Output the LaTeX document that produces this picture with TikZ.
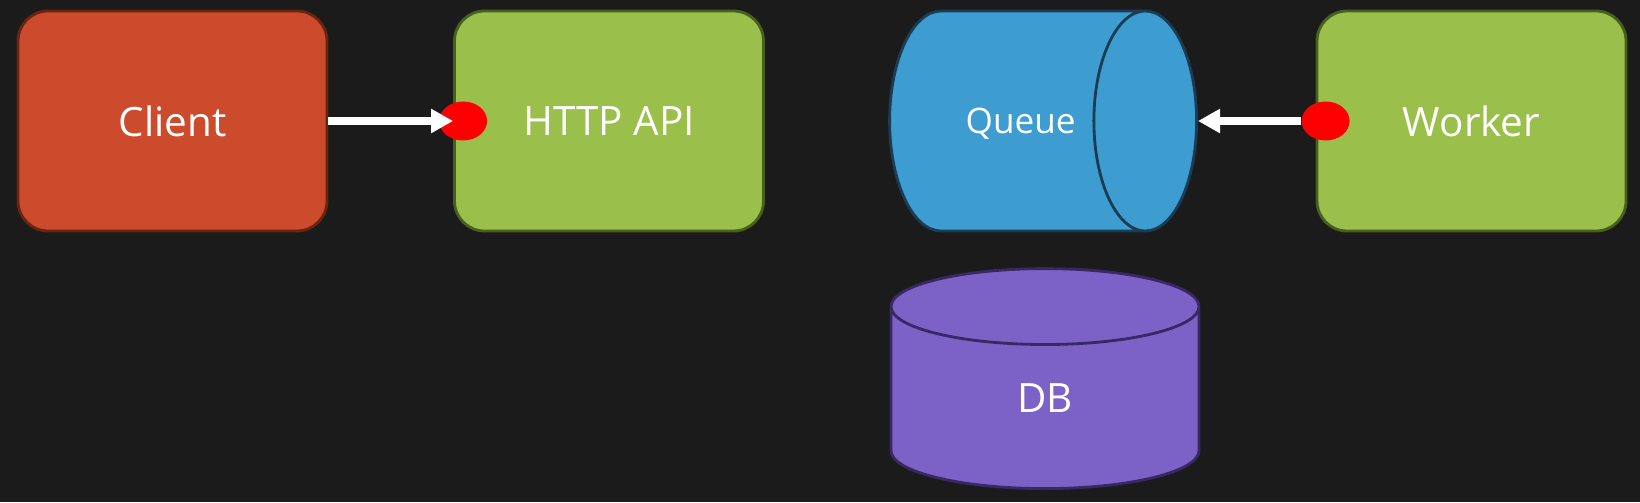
\documentclass[tikz,border=0pt]{standalone}
\usepackage{fontspec}
\setmainfont{Open Sans}
\usepackage{tikz}
\usetikzlibrary{shapes.geometric,arrows.meta}

\definecolor{bgdark}{HTML}{1B1B1B}
\definecolor{clientred}{HTML}{CC4B2C}
\definecolor{clientline}{HTML}{6A2412}
\definecolor{apigreen}{HTML}{9ABF4A}
\definecolor{apiline}{HTML}{46601F}
\definecolor{queueblue}{HTML}{3E9DD0}
\definecolor{queueline}{HTML}{1A3C55}
\definecolor{dbpurple}{HTML}{7C62C6}
\definecolor{dbline}{HTML}{382863}
\definecolor{portred}{HTML}{FF0000}

\begin{document}
\begin{tikzpicture}[
  box/.style={rectangle, rounded corners=0.3cm, minimum width=3.09cm, minimum height=2.2cm,
    line width=0.8pt, text=white, font=\fontsize{11.5}{13}\selectfont},
  port/.style={ellipse, fill=portred, minimum width=0.48cm, minimum height=0.39cm, inner sep=0pt},
  wire/.style={draw=white, line width=2.3pt, -{Triangle[length=2.2mm,width=2.3mm]}}
]
\fill[bgdark] (0,0) rectangle (16.4,5.02);

\node[box, draw=clientline, fill=clientred] (client) at (1.725,3.81) {Client};
\node[box, draw=apiline, fill=apigreen] (api) at (6.09,3.81) {HTTP API};
\node[cylinder, draw=queueline, fill=queueblue, line width=0.8pt, aspect=2.1,
  minimum width=2.2cm, minimum height=3.07cm, text=white, font=\fontsize{10}{12}\selectfont,
  text width=1.41cm, align=right, text depth=0pt, anchor=east] (queue) at (11.98,3.81) {Queue};
\node[box, draw=apiline, fill=apigreen] (worker) at (14.715,3.81) {Worker};

\node[cylinder, shape border rotate=90, draw=dbline, fill=dbpurple, line width=0.8pt, aspect=0.96,
  minimum width=3.08cm, minimum height=2.2cm, text=white, font=\fontsize{11.5}{13}\selectfont,
  text depth=0.14cm, anchor=south] (db) at (10.45,0.12) {DB};

\node[port] (apiport) at ([xshift=0.1cm]api.west) {};
\node[port] (wkport) at ([xshift=0.1cm]worker.west) {};

\draw[wire] (client.east) -- (api.west);
\draw[wire] (wkport) -- (queue.east);

\end{tikzpicture}
\end{document}
